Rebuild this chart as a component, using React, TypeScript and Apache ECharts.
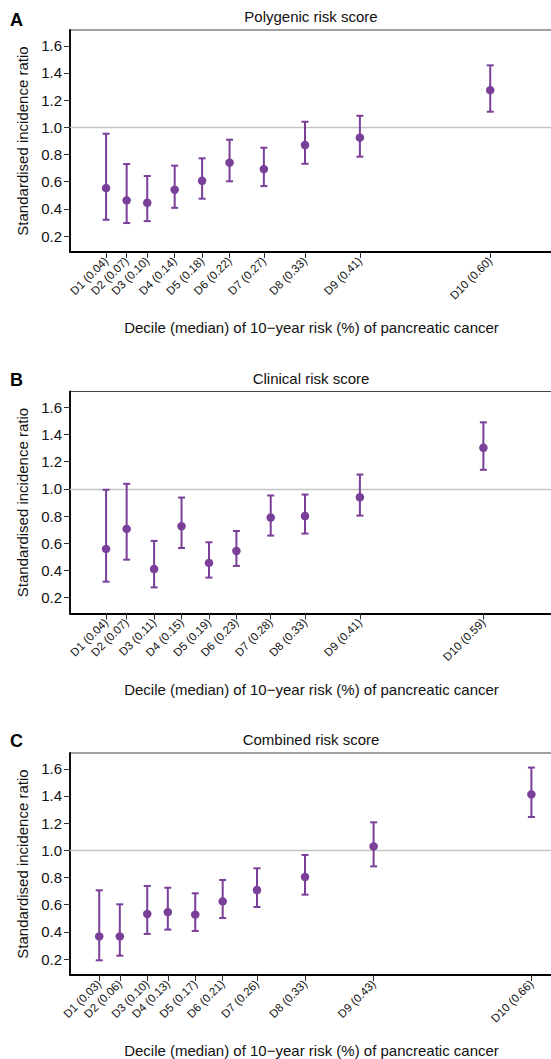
import React, { useEffect, useRef } from "react";
import * as echarts from "echarts";

// Panel titles and letters
const panelLetters = ["A", "B", "C"];
const panelTitles = ["Polygenic risk score", "Clinical risk score", "Combined risk score"];

// Decile medians (10-year risk, %)
const mediansA = [0.04, 0.07, 0.10, 0.14, 0.18, 0.22, 0.27, 0.33, 0.41, 0.60];
const mediansB = [0.04, 0.07, 0.11, 0.15, 0.19, 0.23, 0.28, 0.33, 0.41, 0.59];
const mediansC = [0.03, 0.06, 0.10, 0.13, 0.17, 0.21, 0.26, 0.33, 0.43, 0.66];

// Standardised incidence ratios with 95% CI
const sirA = [0.553, 0.463, 0.445, 0.541, 0.607, 0.74, 0.693, 0.87, 0.924, 1.274];
const lowA = [0.32, 0.296, 0.31, 0.408, 0.475, 0.603, 0.568, 0.732, 0.784, 1.115];
const highA = [0.953, 0.73, 0.642, 0.718, 0.772, 0.909, 0.85, 1.041, 1.085, 1.456];

const sirB = [0.558, 0.705, 0.41, 0.725, 0.455, 0.543, 0.789, 0.8, 0.938, 1.302];
const lowB = [0.317, 0.479, 0.275, 0.565, 0.347, 0.433, 0.656, 0.671, 0.803, 1.14];
const highB = [0.993, 1.037, 0.617, 0.936, 0.607, 0.69, 0.951, 0.958, 1.105, 1.489];

const sirC = [0.367, 0.367, 0.532, 0.546, 0.527, 0.625, 0.708, 0.804, 1.029, 1.412];
const lowC = [0.191, 0.225, 0.385, 0.417, 0.407, 0.502, 0.583, 0.674, 0.882, 1.245];
const highC = [0.706, 0.603, 0.738, 0.725, 0.684, 0.782, 0.868, 0.966, 1.206, 1.609];

const yTicks = [0.2, 0.4, 0.6, 0.8, 1.0, 1.2, 1.4, 1.6];
const xName = "Decile (median) of 10\u2212year risk (%) of pancreatic cancer";
const yName = "Standardised incidence ratio";

const panels = [
  { medians: mediansA, sir: sirA, low: lowA, high: highA },
  { medians: mediansB, sir: sirB, low: lowB, high: highB },
  { medians: mediansC, sir: sirC, low: lowC, high: highC },
];

const PURPLE = "#7a3f98";
const FONT = "'Liberation Sans', Arial, Helvetica, sans-serif";

export default function App() {
  const ref = useRef<HTMLDivElement>(null);
  useEffect(() => {
    if (!ref.current) return;
    const chart = echarts.init(ref.current, null, { renderer: "svg" });

    const gridTops = [30, 391.5, 753];
    const gridH = 222;
    const titleY = [16.5, 378.5, 739.5];
    const letterY = [20, 380, 741];

    const grids: any[] = [];
    const xAxes: any[] = [];
    const yAxes: any[] = [];
    const series: any[] = [];
    const graphics: any[] = [];

    panels.forEach((p, i) => {
      grids.push({
        left: 70,
        top: gridTops[i],
        width: 483,
        height: gridH,
        show: true,
        borderColor: "#444",
        borderWidth: 1.2,
        containLabel: false,
        outerBoundsMode: "none",
      });
      const labels = p.medians.map((m, k) => `D${k + 1} (${m.toFixed(2)})`);
      xAxes.push({
        type: "value",
        gridIndex: i,
        min: -0.0126,
        max: 0.6915,
        splitLine: { show: false },
        axisLine: { show: true, onZero: false, lineStyle: { color: "#000", width: 1.8 } },
        axisTick: { show: true, length: 6, customValues: p.medians, lineStyle: { color: "#333", width: 1 } },
        axisLabel: {
          show: true,
          customValues: p.medians,
          rotate: 45,
          margin: 7,
          fontSize: 11.5,
          fontFamily: FONT,
          color: "#111",
          formatter: (v: number) => {
            let best = 0;
            p.medians.forEach((m, k) => {
              if (Math.abs(m - v) < Math.abs(p.medians[best] - v)) best = k;
            });
            return labels[best];
          },
        },
        name: xName,
        nameLocation: "middle",
        nameGap: 68,
        nameTextStyle: { fontSize: 15, fontFamily: FONT, color: "#111" },
      });
      yAxes.push({
        type: "value",
        gridIndex: i,
        min: 0.083,
        max: 1.716,
        splitLine: { show: false },
        axisLine: { show: true, onZero: false, lineStyle: { color: "#000", width: 1.8 } },
        axisTick: { show: true, length: 6, customValues: yTicks, lineStyle: { color: "#333", width: 1 } },
        axisLabel: {
          show: true,
          customValues: yTicks,
          margin: 8,
          fontSize: 15,
          fontFamily: FONT,
          color: "#111",
          formatter: (v: number) => v.toFixed(1),
        },
        name: yName,
        nameLocation: "middle",
        nameGap: 40,
        nameTextStyle: { fontSize: 15, fontFamily: FONT, color: "#111" },
      });

      series.push({
        type: "custom",
        xAxisIndex: i,
        yAxisIndex: i,
        data: p.medians.map((m, k) => [m, p.low[k], p.high[k]]),
        encode: { x: 0, y: [1, 2] },
        renderItem: (params: any, api: any) => {
          const x = api.value(0);
          const top = api.coord([x, api.value(2)]);
          const bot = api.coord([x, api.value(1)]);
          const w = 3.5;
          const style = { stroke: PURPLE, lineWidth: 2 };
          return {
            type: "group",
            children: [
              { type: "line", shape: { x1: top[0], y1: top[1], x2: bot[0], y2: bot[1] }, style },
              { type: "line", shape: { x1: top[0] - w, y1: top[1], x2: top[0] + w, y2: top[1] }, style },
              { type: "line", shape: { x1: bot[0] - w, y1: bot[1], x2: bot[0] + w, y2: bot[1] }, style },
            ],
          };
        },
        z: 3,
        markLine: {
          silent: true,
          symbol: "none",
          label: { show: false },
          lineStyle: { color: "#c4c4c4", width: 1.3, type: "solid" },
          data: [{ yAxis: 1.0 }],
          z: 1,
        },
      });
      series.push({
        type: "scatter",
        xAxisIndex: i,
        yAxisIndex: i,
        data: p.medians.map((m, k) => [m, p.sir[k]]),
        symbol: "circle",
        symbolSize: 8.5,
        itemStyle: { color: PURPLE, opacity: 1 },
        z: 4,
      });

      graphics.push({
        type: "text",
        x: 311,
        y: titleY[i],
        style: {
          text: panelTitles[i],
          fontSize: 15,
          fontFamily: FONT,
          fill: "#111",
          textAlign: "center",
          textVerticalAlign: "middle",
        },
      });
      graphics.push({
        type: "text",
        x: 10,
        y: letterY[i],
        style: {
          text: panelLetters[i],
          fontSize: 18,
          fontWeight: "bold",
          fontFamily: FONT,
          fill: "#000",
          textAlign: "left",
          textVerticalAlign: "middle",
        },
      });
    });

    chart.setOption({
      animation: false,
      backgroundColor: "#fff",
      grid: grids,
      xAxis: xAxes,
      yAxis: yAxes,
      series,
      graphic: graphics,
    });
    return () => chart.dispose();
  }, []);

  return (
    <div
      ref={ref}
      style={{ position: "absolute", left: 0, top: 0, width: 551, height: 1059, overflow: "hidden" }}
    />
  );
}
